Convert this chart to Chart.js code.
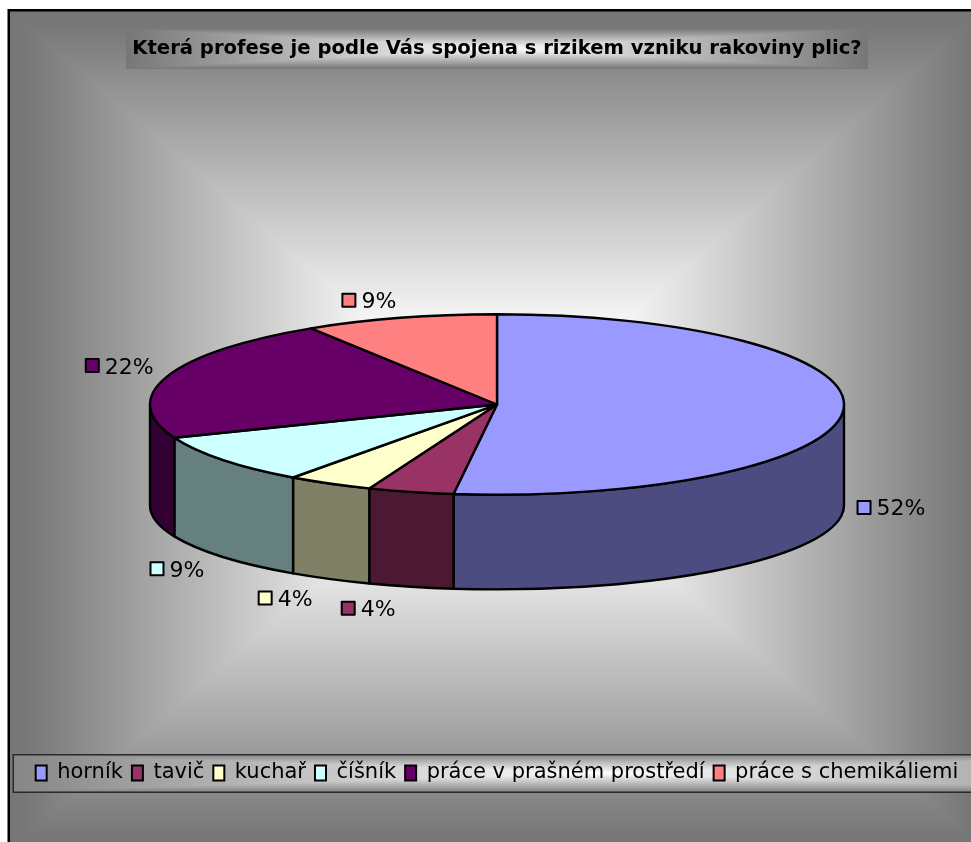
<!DOCTYPE html>
<html>
<head>
<meta charset="utf-8">
<title>Profese a riziko rakoviny plic</title>
<script src="https://cdn.jsdelivr.net/npm/chart.js@4.4.1/dist/chart.umd.min.js"></script>
<style>
  html, body { margin: 0; padding: 0; background: #fff; }
  canvas { display: block; }
</style>
</head>
<body>
<canvas id="chart" width="971" height="842"></canvas>
<script>
// answers to the survey question, in percent
const titleText = 'Která profese je podle Vás spojena s rizikem vzniku rakoviny plic?';
const categories = ['horník', 'tavič', 'kuchař', 'číšník', 'práce v prašném prostředí', 'práce s chemikáliemi'];
const shares = [52, 4, 4, 9, 22, 9];

const topColors = ['#9999FF', '#993366', '#FFFFCC', '#CCFFFF', '#660066', '#FF8080'];
const sideColors = ['#4C4C80', '#4C1933', '#808066', '#668080', '#330033', '#804040'];

const FONT = "'DejaVu Sans', 'Liberation Sans', sans-serif";
const TILT = 0.26;        // ry / rx of the top face
const DEPTH = 0.291;      // height of the cake, relative to rx
const BOTTOM_TILT = 0.93; // bottom rim looks a bit flatter (perspective)

// grey "from centre" fill, the same style Excel uses for the chart area
function glow(ctx, x0, y0, x1, y1, cx, cy, hw, hh, flat, end) {
  x0 = Math.max(0, Math.round(x0)); y0 = Math.max(0, Math.round(y0));
  x1 = Math.min(ctx.canvas.width, Math.round(x1)); y1 = Math.min(ctx.canvas.height, Math.round(y1));
  const w = x1 - x0, h = y1 - y0;
  const img = ctx.createImageData(w, h);
  for (let y = 0; y < h; y++) {
    for (let x = 0; x < w; x++) {
      const t = Math.max(Math.abs(x0 + x + 0.5 - cx) / hw, Math.abs(y0 + y + 0.5 - cy) / hh);
      const k = Math.min(1, Math.max(0, (t - flat) / (end - flat)));
      const v = Math.round(255 - 136 * k);
      const p = (y * w + x) * 4;
      img.data[p] = img.data[p + 1] = img.data[p + 2] = v;
      img.data[p + 3] = 255;
    }
  }
  ctx.putImageData(img, x0, y0);
}

const pie3d = {
  id: 'pie3d',
  beforeDraw(chart) {
    const ctx = chart.ctx;
    const W = chart.width, H = chart.height;
    ctx.save();
    ctx.fillStyle = '#fff';
    ctx.fillRect(0, 0, W, H);
    glow(ctx, 9, 10, W, H, 497, 430, 488, 420, 0.21, 0.965);

    // title panel
    const tb = chart.titleBlock;
    const tOpts = chart.options.plugins.title;
    ctx.font = 'bold ' + tOpts.font.size + 'px ' + FONT;
    const tw = ctx.measureText(titleText).width;
    const tcx = (tb.left + tb.right) / 2;
    const tcy = tb.top + tOpts.padding.top + tOpts.font.size * 1.2 / 2;
    glow(ctx, tcx - tw / 2 - 6, tcy - 20, tcx + tw / 2 + 6, tcy + 20, tcx, tcy, tw / 2 + 6, 20, 0, 1);

    // legend panel
    const lg = chart.legend;
    const lcy = lg.top + lg.options.labels.padding + 10.5;
    glow(ctx, 13, lcy - 18, W, lcy + 19, 600, lcy, 590, 18.5, 0, 1.12);
    ctx.strokeStyle = '#2b2b2b';
    ctx.lineWidth = 1.5;
    ctx.strokeRect(13.25, lcy - 18.25, W + 20, 37.5);

    // frame
    ctx.strokeStyle = '#000';
    ctx.lineWidth = 2.5;
    ctx.strokeRect(8.75, 10.25, W + 50, H + 50);
    ctx.restore();
  },
  beforeDatasetsDraw(chart) {
    const ctx = chart.ctx;
    const arcs = chart.getDatasetMeta(0).data;
    const cx = arcs[0].x, cy = arcs[0].y, rx = arcs[0].outerRadius;
    const ry = rx * TILT;
    const cyb = cy + rx * DEPTH;
    const ryb = ry * BOTTOM_TILT;
    const total = shares.reduce((a, b) => a + b, 0);

    ctx.save();
    ctx.strokeStyle = '#000';
    ctx.lineWidth = 2.4;
    ctx.lineJoin = 'round';

    // front wall of every slice (only the half facing the viewer)
    arcs.forEach((arc, i) => {
      const s = Math.max(arc.startAngle, 0), e = Math.min(arc.endAngle, Math.PI);
      if (e <= s) return;
      ctx.beginPath();
      ctx.ellipse(cx, cy, rx, ry, 0, s, e);
      ctx.lineTo(cx + rx * Math.cos(e), cyb + ryb * Math.sin(e));
      ctx.ellipse(cx, cyb, rx, ryb, 0, e, s, true);
      ctx.closePath();
      ctx.fillStyle = sideColors[i];
      ctx.fill();
      ctx.stroke();
    });

    // top faces
    arcs.forEach((arc, i) => {
      ctx.beginPath();
      ctx.moveTo(cx, cy);
      ctx.ellipse(cx, cy, rx, ry, 0, arc.startAngle, arc.endAngle);
      ctx.closePath();
      ctx.fillStyle = topColors[i];
      ctx.fill();
      ctx.stroke();
    });

    // percentage labels with colour key, outside the rim
    ctx.font = '22px ' + FONT;
    ctx.textBaseline = 'alphabetic';
    ctx.lineWidth = 2;
    arcs.forEach((arc, i) => {
      const mid = (arc.startAngle + arc.endAngle) / 2;
      const c = Math.cos(mid), s = Math.sin(mid);
      const text = Math.round(shares[i] / total * 100) + '%';
      const gw = 20 + ctx.measureText(text).width;
      const front = s > 0;
      const gx = cx + (rx + 14) * c + Math.sign(c) * gw / 2 - (front ? 12 * s : 0);
      const gy = cy + (ry + 10) * s + (front ? cyb - cy - 13 + 11 * s : 0) + Math.sign(s) * 8;
      const left = gx - gw / 2;
      ctx.fillStyle = topColors[i];
      ctx.fillRect(left + 1, gy - 6.5, 13, 13);
      ctx.strokeRect(left + 1, gy - 6.5, 13, 13);
      ctx.fillStyle = '#000';
      ctx.fillText(text, left + 20, gy + 8);
    });
    ctx.restore();
    return false;
  }
};

new Chart(document.getElementById('chart'), {
  type: 'pie',
  data: {
    labels: categories,
    datasets: [{
      data: shares,
      backgroundColor: topColors,
      borderColor: '#000',
      borderWidth: 2,
      radius: 347
    }]
  },
  options: {
    responsive: false,
    animation: false,
    events: [],
    layout: { padding: { left: 23, right: 0, top: 0, bottom: 48.5 } },
    plugins: {
      title: {
        display: true,
        text: titleText,
        color: '#000',
        font: { family: FONT, size: 19.6, weight: 'bold', lineHeight: 1.2 },
        padding: { top: 37, bottom: -5 }
      },
      legend: {
        position: 'bottom',
        labels: {
          color: '#000',
          font: { family: FONT, size: 21 },
          boxWidth: 11,
          boxHeight: 15,
          padding: 9
        }
      },
      tooltip: { enabled: false }
    }
  },
  plugins: [pie3d]
});
</script>
</body>
</html>
